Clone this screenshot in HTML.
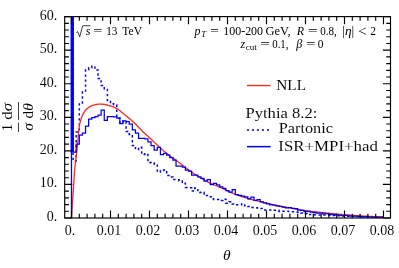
<!DOCTYPE html>
<html><head><meta charset="utf-8"><title>plot</title>
<style>
html,body{margin:0;padding:0;background:#fff;}
body{width:399px;height:268px;overflow:hidden;}
svg{display:block;font-family:"Liberation Serif",serif;fill:#000;opacity:0.999;will-change:transform;}
text{stroke:#fff;stroke-width:0.06px;}
text.s{stroke:none;}
.i{font-style:italic;}
</style></head><body>
<svg width="399" height="268" viewBox="0 0 399 268">
<rect width="399" height="268" fill="#fff"/>
<defs><clipPath id="c"><rect x="64.7" y="16.6" width="325.8" height="201.4"/></clipPath></defs>
<g clip-path="url(#c)" fill="none" stroke-linejoin="miter">
<path d="M73.06 0.00 L73.06 161.00 L76.18 161.00 L76.18 132.00 L79.30 132.00 L79.30 104.00 L82.42 104.00 L82.42 92.00 L85.54 92.00 L85.54 69.70 L88.66 69.70 L88.66 67.80 L91.78 67.80 L91.78 66.30 L94.90 66.30 L94.90 70.00 L98.02 70.00 L98.02 78.50 L101.14 78.50 L101.14 85.50 L104.26 85.50 L104.26 89.50 L107.38 89.50 L107.38 100.50 L110.50 100.50 L110.50 103.80 L113.62 103.80 L113.62 104.70 L116.74 104.70 L116.74 118.00 L119.86 118.00 L119.86 123.00 L122.98 123.00 L122.98 121.00 L126.10 121.00 L126.10 131.50 L129.22 131.50 L129.22 134.50 L132.34 134.50 L132.34 145.50 L135.46 145.50 L135.46 149.50 L138.58 149.50 L138.58 147.30 L141.70 147.30 L141.70 154.40 L144.82 154.40 L144.82 153.80 L147.94 153.80 L147.94 162.50 L151.06 162.50 L151.06 163.00 L154.18 163.00 L154.18 164.00 L157.30 164.00 L157.30 172.00 L160.42 172.00 L160.42 170.50 L163.54 170.50 L163.54 170.00 L166.66 170.00 L166.66 175.50 L169.78 175.50 L169.78 177.00 L172.90 177.00 L172.90 179.60 L176.02 179.60 L176.02 179.80 L179.14 179.80 L179.14 181.00 L182.26 181.00 L182.26 183.30 L185.38 183.30 L185.38 187.50 L188.50 187.50 L188.50 187.80 L191.62 187.80 L191.62 191.10 L194.74 191.10 L194.74 188.10 L197.86 188.10 L197.86 192.50 L200.98 192.50 L200.98 192.30 L204.10 192.30 L204.10 195.60 L207.22 195.60 L207.22 195.60 L210.34 195.60 L210.34 196.80 L213.46 196.80 L213.46 199.40 L216.58 199.40 L216.58 199.40 L219.70 199.40 L219.70 200.50 L222.82 200.50 L222.82 199.20 L225.94 199.20 L225.94 203.30 L229.06 203.30 L229.06 201.80 L232.18 201.80 L232.18 203.90 L235.30 203.90 L235.30 204.80 L238.42 204.80 L238.42 204.80 L241.54 204.80 L241.54 203.90 L244.66 203.90 L244.66 205.80 L247.78 205.80 L247.78 206.60 L250.90 206.60 L250.90 207.60 L254.02 207.60 L254.02 207.80 L257.14 207.80 L257.14 208.10 L260.26 208.10 L260.26 208.50 L263.38 208.50 L263.38 209.90 L266.50 209.90 L266.50 209.90 L269.62 209.90 L269.62 209.90 L272.74 209.90 L272.74 210.30 L275.86 210.30 L275.86 210.30 L278.98 210.30 L278.98 211.40 L282.10 211.40 L282.10 211.20 L285.22 211.20 L285.22 211.30 L288.34 211.30 L288.34 211.60 L291.46 211.60 L291.46 211.80 L294.58 211.80 L294.58 212.10 L297.70 212.10 L297.70 212.30 L300.82 212.30 L300.82 213.00 L303.94 213.00 L303.94 213.80 L307.06 213.80 L307.06 214.60 L310.18 214.60 L310.18 214.50 L313.30 214.50 L313.30 214.80 L316.42 214.80 L316.42 214.90 L319.54 214.90 L319.54 215.00 L322.66 215.00 L322.66 215.10 L325.78 215.10 L325.78 215.20 L328.90 215.20 L328.90 215.30 L332.02 215.30 L332.02 215.50 L335.14 215.50 L335.14 215.60 L338.26 215.60 L338.26 215.80 L341.38 215.80 L341.38 216.00 L344.50 216.00 L344.50 216.10 L347.62 216.10 L347.62 216.20 L350.74 216.20 L350.74 216.30 L353.86 216.30 L353.86 216.40 L356.98 216.40 L356.98 216.60 L360.10 216.60 L360.10 216.70 L363.22 216.70 L363.22 216.80 L366.34 216.80 L366.34 216.90 L369.46 216.90 L369.46 217.00 L372.58 217.00 L372.58 217.10 L375.70 217.10 L375.70 217.20 L378.82 217.20 L378.82 217.30 L381.94 217.30 L381.94 217.30 L383.50 217.30" stroke="#0000ff" stroke-width="1.5" stroke-dasharray="2.4 2.6" stroke-dashoffset="-2.68"/>
<path d="M71.50 218.00 L71.75 214.10 L72.00 210.23 L72.25 206.39 L72.50 202.56 L72.75 198.77 L73.00 195.00 L73.25 191.16 L73.50 187.21 L73.75 183.25 L74.00 179.40 L74.25 175.74 L74.50 172.39 L74.75 169.45 L75.00 166.85 L75.25 164.48 L75.50 162.27 L75.75 160.14 L76.00 158.00 L76.25 155.94 L76.50 153.99 L76.75 152.02 L77.00 149.91 L77.25 147.53 L77.50 144.85 L77.75 142.01 L78.00 139.19 L78.25 136.42 L78.50 133.47 L78.75 130.64 L79.00 128.25 L79.25 126.53 L79.50 125.13 L79.75 123.94 L80.00 122.89 L80.25 121.93 L80.50 121.02 L80.75 120.15 L81.00 119.33 L81.25 118.56 L81.50 117.83 L81.75 117.14 L82.00 116.49 L82.25 115.89 L82.50 115.32 L82.75 114.78 L83.00 114.27 L83.25 113.77 L83.50 113.30 L83.75 112.85 L84.00 112.41 L84.25 112.00 L84.50 111.60 L84.75 111.23 L85.00 110.88 L85.25 110.55 L85.50 110.24 L85.75 109.96 L86.00 109.69 L86.25 109.44 L86.50 109.21 L86.75 108.98 L87.00 108.77 L87.25 108.57 L87.50 108.37 L87.75 108.19 L88.00 108.00 L88.25 107.82 L88.50 107.64 L88.75 107.46 L89.00 107.28 L89.25 107.11 L89.50 106.95 L89.75 106.79 L90.00 106.64 L91.00 106.09 L92.00 105.66 L93.00 105.30 L94.00 105.00 L95.00 104.73 L96.00 104.49 L97.00 104.32 L98.00 104.22 L99.00 104.13 L100.00 104.10 L101.00 104.12 L102.00 104.16 L103.00 104.23 L104.00 104.32 L105.00 104.49 L106.00 104.74 L107.00 105.00 L108.00 105.26 L109.00 105.54 L110.00 105.85 L111.00 106.16 L112.00 106.48 L113.00 106.82 L114.00 107.19 L115.00 107.59 L116.00 108.05 L117.00 108.61 L118.00 109.29 L119.00 110.05 L120.00 110.87 L121.00 111.71 L122.00 112.52 L123.00 113.31 L124.00 114.11 L125.00 114.93 L126.00 115.75 L127.00 116.59 L128.00 117.43 L129.00 118.28 L130.00 119.12 L131.00 119.97 L132.00 120.82 L133.00 121.70 L134.00 122.60 L135.00 123.53 L136.00 124.50 L137.00 125.56 L138.00 126.70 L139.00 127.80 L140.00 128.82 L141.00 129.81 L142.00 130.79 L143.00 131.74 L144.00 132.68 L145.00 133.60 L146.00 134.52 L147.00 135.43 L148.00 136.33 L149.00 137.24 L150.00 138.15 L151.00 139.07 L152.00 140.00 L153.00 140.94 L154.00 141.90 L155.00 142.86 L156.00 143.83 L157.00 144.79 L158.00 145.75 L159.00 146.71 L160.00 147.65 L161.00 148.57 L162.00 149.48 L163.00 150.36 L164.00 151.22 L165.00 152.04 L166.00 152.85 L167.00 153.64 L168.00 154.42 L169.00 155.18 L170.00 155.93 L171.00 156.66 L172.00 157.40 L173.00 158.13 L174.00 158.85 L175.00 159.58 L176.00 160.31 L177.00 161.04 L178.00 161.78 L179.00 162.52 L180.00 163.28 L181.00 164.05 L182.00 164.83 L183.00 165.61 L184.00 166.40 L185.00 167.18 L186.00 167.96 L187.00 168.74 L188.00 169.50 L189.00 170.25 L190.00 170.98 L191.00 171.70 L192.00 172.39 L193.00 173.07 L194.00 173.73 L195.00 174.38 L196.00 175.03 L197.00 175.67 L198.00 176.31 L199.00 176.93 L200.00 177.54 L201.00 178.15 L202.00 178.74 L203.00 179.32 L204.00 179.89 L205.00 180.45 L206.00 181.00 L207.00 181.53 L208.00 182.05 L209.00 182.55 L210.00 183.03 L211.00 183.49 L212.00 183.93 L213.00 184.36 L214.00 184.77 L215.00 185.18 L216.00 185.59 L217.00 186.00 L218.00 186.42 L219.00 186.85 L220.00 187.30 L221.00 187.77 L222.00 188.26 L223.00 188.76 L224.00 189.26 L225.00 189.77 L226.00 190.28 L227.00 190.77 L228.00 191.26 L229.00 191.72 L230.00 192.16 L231.00 192.60 L232.00 193.02 L233.00 193.43 L234.00 193.82 L235.00 194.20 L236.00 194.57 L237.00 194.92 L238.00 195.28 L239.00 195.62 L240.00 195.96 L241.00 196.30 L242.00 196.63 L243.00 196.95 L244.00 197.27 L245.00 197.58 L246.00 197.88 L247.00 198.18 L248.00 198.48 L249.00 198.77 L250.00 199.05 L251.00 199.33 L252.00 199.60 L253.00 199.87 L254.00 200.13 L255.00 200.39 L256.00 200.64 L257.00 200.89 L258.00 201.13 L259.00 201.37 L260.00 201.61 L261.00 201.85 L262.00 202.08 L263.00 202.32 L264.00 202.55 L265.00 202.78 L266.00 203.00 L267.00 203.22 L268.00 203.43 L269.00 203.65 L270.00 203.86 L271.00 204.08 L272.00 204.30 L273.00 204.54 L274.00 204.79 L275.00 205.05 L276.00 205.30 L277.00 205.56 L278.00 205.80 L279.00 206.02 L280.00 206.22 L281.00 206.40 L282.00 206.58 L283.00 206.74 L284.00 206.90 L285.00 207.07 L286.00 207.23 L287.00 207.40 L288.00 207.58 L289.00 207.76 L290.00 207.95 L291.00 208.13 L292.00 208.32 L293.00 208.51 L294.00 208.70 L295.00 208.89 L296.00 209.08 L297.00 209.26 L298.00 209.44 L299.00 209.62 L300.00 209.79 L301.00 209.95 L302.00 210.10 L303.00 210.25 L304.00 210.39 L305.00 210.53 L306.00 210.66 L307.00 210.80 L308.00 210.93 L309.00 211.05 L310.00 211.18 L311.00 211.30 L312.00 211.42 L313.00 211.54 L314.00 211.65 L315.00 211.77 L316.00 211.89 L317.00 212.00 L318.00 212.11 L319.00 212.23 L320.00 212.34 L321.00 212.44 L322.00 212.55 L323.00 212.66 L324.00 212.76 L325.00 212.86 L326.00 212.97 L327.00 213.07 L328.00 213.17 L329.00 213.27 L330.00 213.36 L331.00 213.46 L332.00 213.56 L333.00 213.65 L334.00 213.75 L335.00 213.84 L336.00 213.93 L337.00 214.02 L338.00 214.11 L339.00 214.20 L340.00 214.29 L341.00 214.38 L342.00 214.46 L343.00 214.54 L344.00 214.62 L345.00 214.70 L346.00 214.78 L347.00 214.86 L348.00 214.94 L349.00 215.02 L350.00 215.10 L351.00 215.18 L352.00 215.25 L353.00 215.33 L354.00 215.40 L355.00 215.47 L356.00 215.54 L357.00 215.61 L358.00 215.67 L359.00 215.74 L360.00 215.80 L361.00 215.86 L362.00 215.92 L363.00 215.98 L364.00 216.04 L365.00 216.10 L366.00 216.15 L367.00 216.21 L368.00 216.27 L369.00 216.32 L370.00 216.38 L371.00 216.43 L372.00 216.48 L373.00 216.53 L374.00 216.58 L375.00 216.63 L376.00 216.68 L377.00 216.73 L378.00 216.77 L379.00 216.82 L380.00 216.86 L381.00 216.90 L382.00 216.94 L383.00 216.98 L383.50 217.00" stroke="#ff2815" stroke-width="1.3" stroke-linejoin="round"/>
<path d="M73.06 0.00 L73.06 152.00 L76.18 152.00 L76.18 144.10 L79.30 144.10 L79.30 135.10 L82.42 135.10 L82.42 133.10 L85.54 133.10 L85.54 126.00 L88.66 126.00 L88.66 119.10 L91.78 119.10 L91.78 117.60 L94.90 117.60 L94.90 116.60 L98.02 116.60 L98.02 115.10 L101.14 115.10 L101.14 110.10 L104.26 110.10 L104.26 120.40 L107.38 120.40 L107.38 116.70 L110.50 116.70 L110.50 116.70 L113.62 116.70 L113.62 116.80 L116.74 116.80 L116.74 118.20 L119.86 118.20 L119.86 123.60 L122.98 123.60 L122.98 120.90 L126.10 120.90 L126.10 121.60 L129.22 121.60 L129.22 124.10 L132.34 124.10 L132.34 129.80 L135.46 129.80 L135.46 133.00 L138.58 133.00 L138.58 138.30 L141.70 138.30 L141.70 138.30 L144.82 138.30 L144.82 138.80 L147.94 138.80 L147.94 141.80 L151.06 141.80 L151.06 145.60 L154.18 145.60 L154.18 150.00 L157.30 150.00 L157.30 147.40 L160.42 147.40 L160.42 154.70 L163.54 154.70 L163.54 153.40 L166.66 153.40 L166.66 155.00 L169.78 155.00 L169.78 157.70 L172.90 157.70 L172.90 160.00 L176.02 160.00 L176.02 166.20 L179.14 166.20 L179.14 166.20 L182.26 166.20 L182.26 167.10 L185.38 167.10 L185.38 170.00 L188.50 170.00 L188.50 171.00 L191.62 171.00 L191.62 175.10 L194.74 175.10 L194.74 175.00 L197.86 175.00 L197.86 176.80 L200.98 176.80 L200.98 178.30 L204.10 178.30 L204.10 181.00 L207.22 181.00 L207.22 179.50 L210.34 179.50 L210.34 184.50 L213.46 184.50 L213.46 183.30 L216.58 183.30 L216.58 184.80 L219.70 184.80 L219.70 186.80 L222.82 186.80 L222.82 188.30 L225.94 188.30 L225.94 190.60 L229.06 190.60 L229.06 192.10 L232.18 192.10 L232.18 189.70 L235.30 189.70 L235.30 194.50 L238.42 194.50 L238.42 195.30 L241.54 195.30 L241.54 196.00 L244.66 196.00 L244.66 196.80 L247.78 196.80 L247.78 198.80 L250.90 198.80 L250.90 197.20 L254.02 197.20 L254.02 200.30 L257.14 200.30 L257.14 199.50 L260.26 199.50 L260.26 201.80 L263.38 201.80 L263.38 202.80 L266.50 202.80 L266.50 203.90 L269.62 203.90 L269.62 204.80 L272.74 204.80 L272.74 205.10 L275.86 205.10 L275.86 205.80 L278.98 205.80 L278.98 206.30 L282.10 206.30 L282.10 207.00 L285.22 207.00 L285.22 207.80 L288.34 207.80 L288.34 207.60 L291.46 207.60 L291.46 208.30 L294.58 208.30 L294.58 208.50 L297.70 208.50 L297.70 210.00 L300.82 210.00 L300.82 210.30 L303.94 210.30 L303.94 211.60 L307.06 211.60 L307.06 211.40 L310.18 211.40 L310.18 212.20 L313.30 212.20 L313.30 212.60 L316.42 212.60 L316.42 213.00 L319.54 213.00 L319.54 213.20 L322.66 213.20 L322.66 213.80 L325.78 213.80 L325.78 213.60 L328.90 213.60 L328.90 214.30 L332.02 214.30 L332.02 214.50 L335.14 214.50 L335.14 214.90 L338.26 214.90 L338.26 215.00 L341.38 215.00 L341.38 215.50 L344.50 215.50 L344.50 215.40 L347.62 215.40 L347.62 215.80 L350.74 215.80 L350.74 216.00 L353.86 216.00 L353.86 216.10 L356.98 216.10 L356.98 216.30 L360.10 216.30 L360.10 216.50 L363.22 216.50 L363.22 216.60 L366.34 216.60 L366.34 216.80 L369.46 216.80 L369.46 216.90 L372.58 216.90 L372.58 217.00 L375.70 217.00 L375.70 217.10 L378.82 217.10 L378.82 217.20 L381.94 217.20 L381.94 217.30 L383.50 217.30" stroke="#0000ff" stroke-width="1.25"/>
<path d="M71.5 218.0 V0" stroke="#0000ff" stroke-width="1.25"/>
<rect x="70.65" y="0" width="3.1" height="152.4" fill="#0000ff" stroke="none"/>
</g>
<path d="M71.50 218.00 V210.40 M71.50 16.60 V24.20 M79.30 218.00 V213.80 M79.30 16.60 V20.80 M87.10 218.00 V213.80 M87.10 16.60 V20.80 M94.90 218.00 V213.80 M94.90 16.60 V20.80 M102.70 218.00 V213.80 M102.70 16.60 V20.80 M110.50 218.00 V210.40 M110.50 16.60 V24.20 M118.30 218.00 V213.80 M118.30 16.60 V20.80 M126.10 218.00 V213.80 M126.10 16.60 V20.80 M133.90 218.00 V213.80 M133.90 16.60 V20.80 M141.70 218.00 V213.80 M141.70 16.60 V20.80 M149.50 218.00 V210.40 M149.50 16.60 V24.20 M157.30 218.00 V213.80 M157.30 16.60 V20.80 M165.10 218.00 V213.80 M165.10 16.60 V20.80 M172.90 218.00 V213.80 M172.90 16.60 V20.80 M180.70 218.00 V213.80 M180.70 16.60 V20.80 M188.50 218.00 V210.40 M188.50 16.60 V24.20 M196.30 218.00 V213.80 M196.30 16.60 V20.80 M204.10 218.00 V213.80 M204.10 16.60 V20.80 M211.90 218.00 V213.80 M211.90 16.60 V20.80 M219.70 218.00 V213.80 M219.70 16.60 V20.80 M227.50 218.00 V210.40 M227.50 16.60 V24.20 M235.30 218.00 V213.80 M235.30 16.60 V20.80 M243.10 218.00 V213.80 M243.10 16.60 V20.80 M250.90 218.00 V213.80 M250.90 16.60 V20.80 M258.70 218.00 V213.80 M258.70 16.60 V20.80 M266.50 218.00 V210.40 M266.50 16.60 V24.20 M274.30 218.00 V213.80 M274.30 16.60 V20.80 M282.10 218.00 V213.80 M282.10 16.60 V20.80 M289.90 218.00 V213.80 M289.90 16.60 V20.80 M297.70 218.00 V213.80 M297.70 16.60 V20.80 M305.50 218.00 V210.40 M305.50 16.60 V24.20 M313.30 218.00 V213.80 M313.30 16.60 V20.80 M321.10 218.00 V213.80 M321.10 16.60 V20.80 M328.90 218.00 V213.80 M328.90 16.60 V20.80 M336.70 218.00 V213.80 M336.70 16.60 V20.80 M344.50 218.00 V210.40 M344.50 16.60 V24.20 M352.30 218.00 V213.80 M352.30 16.60 V20.80 M360.10 218.00 V213.80 M360.10 16.60 V20.80 M367.90 218.00 V213.80 M367.90 16.60 V20.80 M375.70 218.00 V213.80 M375.70 16.60 V20.80 M383.50 218.00 V210.40 M383.50 16.60 V24.20 M64.70 218.00 H72.30 M390.50 218.00 H382.90 M64.70 211.29 H68.90 M390.50 211.29 H386.30 M64.70 204.57 H68.90 M390.50 204.57 H386.30 M64.70 197.86 H68.90 M390.50 197.86 H386.30 M64.70 191.15 H68.90 M390.50 191.15 H386.30 M64.70 184.43 H72.30 M390.50 184.43 H382.90 M64.70 177.72 H68.90 M390.50 177.72 H386.30 M64.70 171.01 H68.90 M390.50 171.01 H386.30 M64.70 164.29 H68.90 M390.50 164.29 H386.30 M64.70 157.58 H68.90 M390.50 157.58 H386.30 M64.70 150.87 H72.30 M390.50 150.87 H382.90 M64.70 144.15 H68.90 M390.50 144.15 H386.30 M64.70 137.44 H68.90 M390.50 137.44 H386.30 M64.70 130.73 H68.90 M390.50 130.73 H386.30 M64.70 124.01 H68.90 M390.50 124.01 H386.30 M64.70 117.30 H72.30 M390.50 117.30 H382.90 M64.70 110.59 H68.90 M390.50 110.59 H386.30 M64.70 103.87 H68.90 M390.50 103.87 H386.30 M64.70 97.16 H68.90 M390.50 97.16 H386.30 M64.70 90.45 H68.90 M390.50 90.45 H386.30 M64.70 83.73 H72.30 M390.50 83.73 H382.90 M64.70 77.02 H68.90 M390.50 77.02 H386.30 M64.70 70.31 H68.90 M390.50 70.31 H386.30 M64.70 63.59 H68.90 M390.50 63.59 H386.30 M64.70 56.88 H68.90 M390.50 56.88 H386.30 M64.70 50.17 H72.30 M390.50 50.17 H382.90 M64.70 43.45 H68.90 M390.50 43.45 H386.30 M64.70 36.74 H68.90 M390.50 36.74 H386.30 M64.70 30.03 H68.90 M390.50 30.03 H386.30 M64.70 23.31 H68.90 M390.50 23.31 H386.30 M64.70 16.60 H72.30 M390.50 16.60 H382.90" stroke="#000" stroke-width="1.15" fill="none"/>
<rect x="64.7" y="16.6" width="325.8" height="201.4" fill="none" stroke="#000" stroke-width="1.15"/>
<text x="69.90" y="234.7" text-anchor="middle" font-size="14.0">0.</text>
<text x="108.90" y="234.7" text-anchor="middle" font-size="14.0">0.01</text>
<text x="147.90" y="234.7" text-anchor="middle" font-size="14.0">0.02</text>
<text x="186.90" y="234.7" text-anchor="middle" font-size="14.0">0.03</text>
<text x="225.90" y="234.7" text-anchor="middle" font-size="14.0">0.04</text>
<text x="264.90" y="234.7" text-anchor="middle" font-size="14.0">0.05</text>
<text x="303.90" y="234.7" text-anchor="middle" font-size="14.0">0.06</text>
<text x="342.90" y="234.7" text-anchor="middle" font-size="14.0">0.07</text>
<text x="381.90" y="234.7" text-anchor="middle" font-size="14.0">0.08</text>
<text x="57.2" y="221.00" text-anchor="end" font-size="14.0">0.</text>
<text x="57.2" y="187.43" text-anchor="end" font-size="14.0">10.</text>
<text x="57.2" y="153.87" text-anchor="end" font-size="14.0">20.</text>
<text x="57.2" y="120.30" text-anchor="end" font-size="14.0">30.</text>
<text x="57.2" y="86.73" text-anchor="end" font-size="14.0">40.</text>
<text x="57.2" y="53.17" text-anchor="end" font-size="14.0">50.</text>
<text x="57.2" y="19.60" text-anchor="end" font-size="14.0">60.</text>
<!-- annotations -->
<path d="M76.4 32.5 L77.7 31.7 L79.7 36.8 L82.7 25.7 H90.4" fill="none" stroke="#000" stroke-width="0.75"/>
<text id="a1" x="88.20" y="35.30" font-size="12" text-anchor="middle" class="i s">s</text>
<text id="a2" x="93.25" y="35.30" font-size="12" textLength="9.10" lengthAdjust="spacingAndGlyphs" class="s">=</text>
<text id="a3" x="106.15" y="35.30" font-size="12" textLength="11.20" lengthAdjust="spacingAndGlyphs" class="s">13</text>
<text id="a4" x="122.35" y="35.30" font-size="12" textLength="19.70" lengthAdjust="spacingAndGlyphs" class="s">TeV</text>
<text id="b1" x="197.45" y="35.30" font-size="12" text-anchor="middle" class="i s">p</text>
<text id="b2" x="203.55" y="36.90" font-size="8.5" text-anchor="middle" class="i s">T</text>
<text id="b3" x="210.25" y="35.30" font-size="12" textLength="8.60" lengthAdjust="spacingAndGlyphs" class="s">=</text>
<text id="b4" x="223.25" y="35.30" font-size="12" textLength="39.80" lengthAdjust="spacingAndGlyphs" class="s">100-200</text>
<text id="b5" x="265.45" y="35.30" font-size="12" textLength="25.10" lengthAdjust="spacingAndGlyphs" class="s">GeV,</text>
<text id="b6" x="300.35" y="35.30" font-size="12" text-anchor="middle" class="i s">R</text>
<text id="b7" x="307.75" y="35.30" font-size="12" textLength="10.00" lengthAdjust="spacingAndGlyphs" class="s">=</text>
<text id="b8" x="320.25" y="35.30" font-size="12" textLength="16.50" lengthAdjust="spacingAndGlyphs" class="s">0.8,</text>
<text id="b9" x="342.25" y="35.30" font-size="12" textLength="12.00" lengthAdjust="spacingAndGlyphs" class="s">|<tspan class="i">η</tspan>|</text>
<text id="b10" x="358.05" y="36.00" font-size="14.5" textLength="8.70" lengthAdjust="spacingAndGlyphs" class="">&lt;</text>
<text id="b11" x="370.35" y="35.30" font-size="12" textLength="5.70" lengthAdjust="spacingAndGlyphs" class="s">2</text>
<text id="c1" x="242.90" y="48.20" font-size="12" text-anchor="middle" class="i s">z</text>
<text id="c2" x="245.65" y="49.90" font-size="8.5" textLength="11.00" lengthAdjust="spacingAndGlyphs" class="s">cut</text>
<text id="c3" x="260.25" y="48.20" font-size="12" textLength="9.70" lengthAdjust="spacingAndGlyphs" class="s">=</text>
<text id="c4" x="272.25" y="48.20" font-size="12" textLength="16.20" lengthAdjust="spacingAndGlyphs" class="s">0.1,</text>
<text id="c5" x="299.20" y="48.20" font-size="12" text-anchor="middle" class="i s">β</text>
<text id="c6" x="306.05" y="48.20" font-size="12" textLength="9.50" lengthAdjust="spacingAndGlyphs" class="s">=</text>
<text id="c7" x="317.85" y="48.20" font-size="12" textLength="5.70" lengthAdjust="spacingAndGlyphs" class="s">0</text>
<path d="M247 85.55 H270.6" stroke="#ff2815" stroke-width="1.35"/>
<text id="l1" x="276.30" y="89.60" font-size="15" textLength="29.70" lengthAdjust="spacingAndGlyphs" class="">NLL</text>
<text id="l2" x="245.50" y="117.50" font-size="15" textLength="71.80" lengthAdjust="spacingAndGlyphs" class="">Pythia 8.2:</text>
<path d="M246.9 130 H270.6" stroke="#0000ff" stroke-width="1.35" stroke-dasharray="2.1 2.9"/>
<text id="l3" x="278.80" y="133.40" font-size="15" textLength="54.20" lengthAdjust="spacingAndGlyphs" class="">Partonic</text>
<path d="M247 146.65 H270.6" stroke="#0000ff" stroke-width="1.5"/>
<text id="l4" x="278.30" y="150.80" font-size="15" textLength="99.60" lengthAdjust="spacingAndGlyphs" class="">ISR+MPI+had</text>
<text id="xl" x="226.9" y="260.4" text-anchor="middle" font-size="15.5" class="i">θ</text>
<g transform="rotate(-90)" font-size="15.5">
<text id="y1" x="-127.6" y="12.3" text-anchor="middle">1</text>
<text id="y2" x="-111.35" y="12.3" text-anchor="middle" textLength="17" lengthAdjust="spacingAndGlyphs">d<tspan class="i">σ</tspan></text>
<text id="y3" x="-127.0" y="33.0" text-anchor="middle" class="i">σ</text>
<text id="y4" x="-110.85" y="33.0" text-anchor="middle" textLength="15.2" lengthAdjust="spacingAndGlyphs">d<tspan class="i">θ</tspan></text>
<path d="M-132 18.5 H-122.6 M-120.1 18.5 H-102" stroke="#000" stroke-width="0.75" fill="none"/>
</g>
</svg>
</body></html>
